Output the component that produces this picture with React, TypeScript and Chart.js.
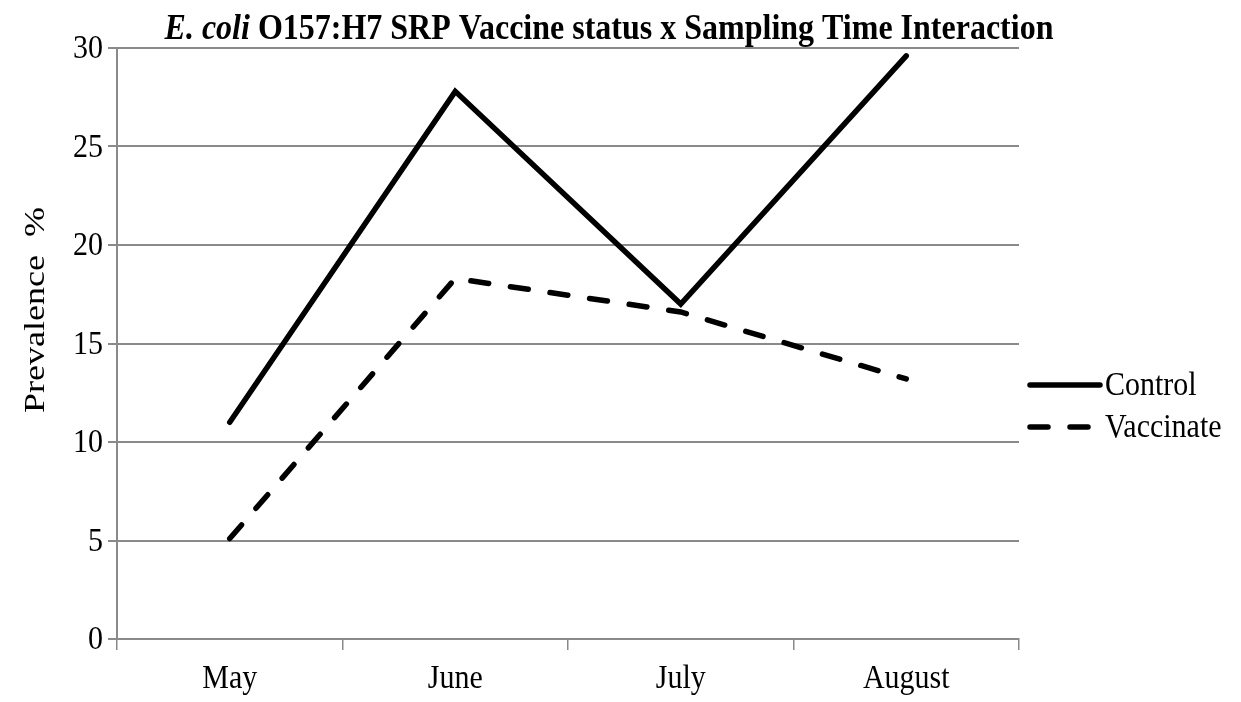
import React, { useEffect, useRef } from "react";
import { Chart, registerables } from "chart.js";

Chart.register(...registerables);

const categories = ["May", "June", "July", "August"];
const controlValues = [11.0, 27.8, 17.0, 29.6];
const vaccinateValues = [5.1, 18.3, 16.6, 13.2];
const seriesNames = ["Control", "Vaccinate"];
const yTicks = [0, 5, 10, 15, 20, 25, 30];
const titleItalic = "E. coli";
const titleRest = " O157:H7 SRP Vaccine status x Sampling Time Interaction";
const yTitle = "Prevalence  %";

const FONT = "'Liberation Serif', 'Times New Roman', serif";
const GRID = "#8a8a8a";
const SY = 1.15;

function stretchedText(
  ctx: CanvasRenderingContext2D,
  text: string,
  x: number,
  y: number,
  font: string,
  align: CanvasTextAlign,
  baseline: CanvasTextBaseline
) {
  ctx.save();
  ctx.translate(x, y);
  ctx.scale(1, SY);
  ctx.font = font;
  ctx.textAlign = align;
  ctx.textBaseline = baseline;
  ctx.fillStyle = "#000";
  ctx.fillText(text, 0, 0);
  ctx.restore();
}

const decorPlugin = {
  id: "decor",
  afterDraw(chart: any) {
    const ctx: CanvasRenderingContext2D = chart.ctx;
    const area = chart.chartArea;
    ctx.save();
    // Title
    ctx.font = `italic bold 32px ${FONT}`;
    const w1 = ctx.measureText(titleItalic).width;
    ctx.font = `bold 32px ${FONT}`;
    const w2 = ctx.measureText(titleRest).width;
    const cx = 609;
    const x0 = cx - (w1 + w2) / 2;
    stretchedText(ctx, titleItalic, x0, 39, `italic bold 32px ${FONT}`, "left", "alphabetic");
    stretchedText(ctx, titleRest, x0 + w1, 39, `bold 32px ${FONT}`, "left", "alphabetic");

    // Y tick labels
    const ys = chart.scales.y;
    ys.ticks.forEach((t: any, i: number) => {
      const py = ys.getPixelForTick(i);
      stretchedText(ctx, String(t.value), area.left - 14, py + 1, `30px ${FONT}`, "right", "middle");
    });
    // X tick labels
    const xs = chart.scales.x;
    categories.forEach((c, i) => {
      const px = xs.getPixelForValue(i);
      stretchedText(ctx, c, px, area.bottom + 40, `30px ${FONT}`, "center", "middle");
    });

    // Y title
    ctx.save();
    ctx.translate(36, 310);
    ctx.rotate(-Math.PI / 2);
    ctx.scale(SY + 0.05, 1);
    ctx.font = `30px ${FONT}`;
    ctx.textAlign = "center";
    ctx.textBaseline = "middle";
    ctx.fillStyle = "#000";
    ctx.fillText(yTitle, 0, 0);
    ctx.restore();

    // Legend
    const ly0 = [385, 427];
    chart.data.datasets.forEach((ds: any, i: number) => {
      const ly = ly0[i];
      ctx.save();
      ctx.strokeStyle = ds.borderColor;
      ctx.lineWidth = ds.borderWidth;
      ctx.lineCap = "round";
      ctx.setLineDash(ds.borderDash || []);
      ctx.beginPath();
      ctx.moveTo(area.right + 11, ly);
      ctx.lineTo(area.right + 81, ly);
      ctx.stroke();
      ctx.restore();
      stretchedText(ctx, ds.label, area.right + 86, ly + 1, `30px ${FONT}`, "left", "middle");
    });
    ctx.restore();
  },
};

export default function App() {
  const ref = useRef<HTMLCanvasElement | null>(null);
  useEffect(() => {
    document.body.style.margin = "0";
    const chart = new Chart(ref.current as HTMLCanvasElement, {
      type: "line",
      data: {
        labels: categories,
        datasets: [
          {
            label: seriesNames[0],
            data: controlValues,
            borderColor: "#000",
            backgroundColor: "#000",
            borderWidth: 5.5,
            pointRadius: 0,
            tension: 0,
            borderCapStyle: "round",
            borderJoinStyle: "miter",
          },
          {
            label: seriesNames[1],
            data: vaccinateValues,
            borderColor: "#000",
            backgroundColor: "#000",
            borderWidth: 5.5,
            borderDash: [18, 22],
            pointRadius: 0,
            tension: 0,
            borderCapStyle: "round",
            borderJoinStyle: "miter",
          },
        ],
      },
      options: {
        animation: false,
        responsive: true,
        maintainAspectRatio: false,
        layout: { padding: { top: 48, right: 222, left: 0, bottom: 0 } },
        plugins: {
          legend: { display: false },
          title: { display: false },
          tooltip: { enabled: false },
        },
        scales: {
          x: {
            type: "category",
            offset: true,
            afterFit(scale: any) {
              scale.height = 63;
            },
            grid: {
              display: true,
              drawOnChartArea: false,
              offset: true,
              tickLength: 11,
              color: GRID,
              lineWidth: 1.5,
            },
            border: { display: true, color: GRID, width: 2 },
            ticks: { display: false },
          },
          y: {
            min: 0,
            max: 30,
            afterFit(scale: any) {
              scale.width = 117;
            },
            afterBuildTicks(scale: any) {
              scale.ticks = yTicks.map((v) => ({ value: v }));
            },
            grid: {
              color: GRID,
              lineWidth: 2,
              tickLength: 9,
            },
            border: { display: true, color: GRID, width: 2 },
            ticks: { display: false },
          },
        },
      },
      plugins: [decorPlugin],
    });
    return () => chart.destroy();
  }, []);
  return (
    <div style={{ position: "absolute", left: 0, top: 0, width: 1241, height: 702 }}>
      <canvas ref={ref} />
    </div>
  );
}
